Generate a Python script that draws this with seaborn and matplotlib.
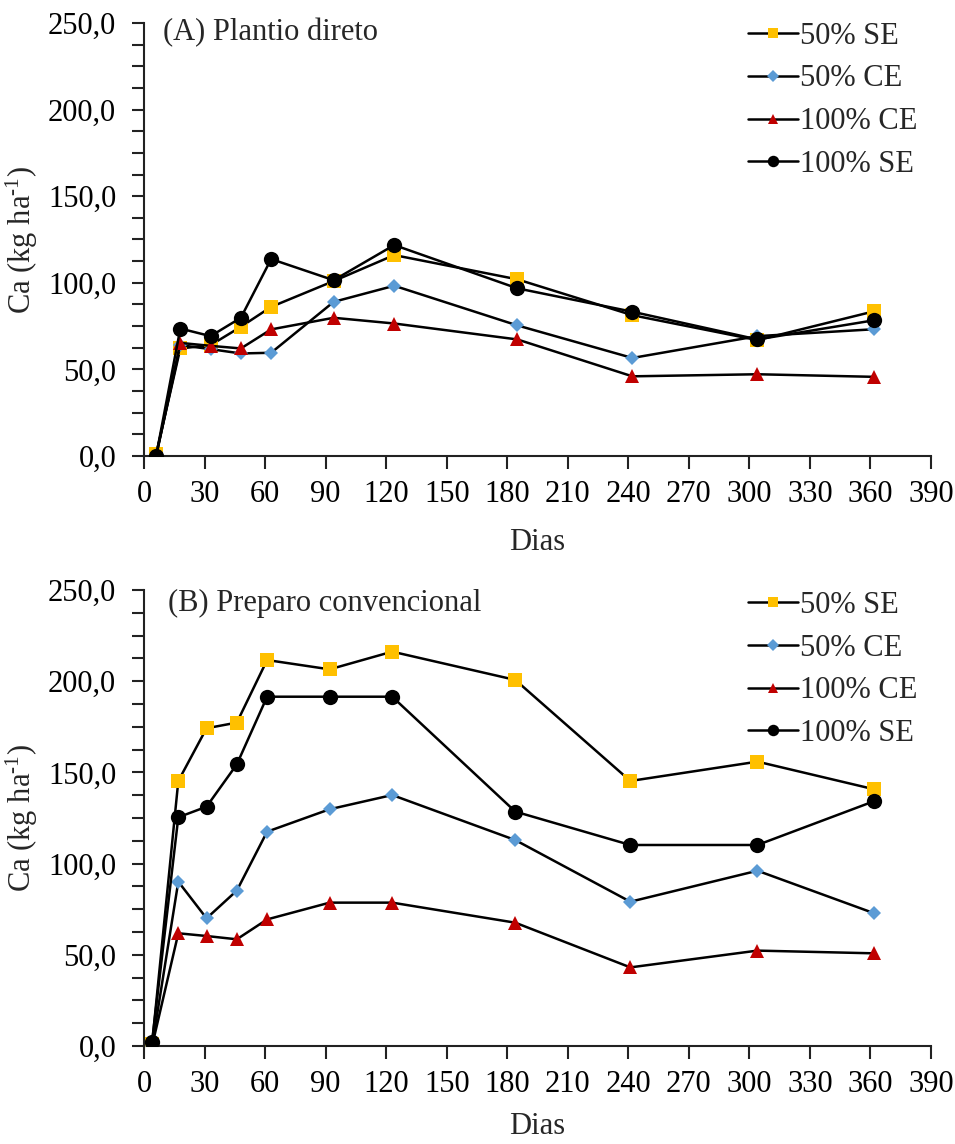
import matplotlib
matplotlib.use("Agg")
import matplotlib.pyplot as plt
import seaborn as sns
import numpy as np
from matplotlib.ticker import MultipleLocator, FuncFormatter

sns.set_style("ticks")
plt.rcParams['font.family'] = ['Liberation Serif', 'DejaVu Serif']
plt.rcParams['mathtext.fontset'] = 'custom'
plt.rcParams['mathtext.rm'] = 'Liberation Serif'
plt.rcParams['mathtext.default'] = 'regular'

series_names = ["50% SE", "50% CE", "100% CE", "100% SE"]

days_a = [6, 18, 33, 48, 63, 94, 124, 185, 242, 304, 362]
a_50se = [1.0, 62.1, 64.0, 74.6, 86.1, 101.0, 116.0, 102.0, 81.3, 66.9, 83.6]
a_50ce = [0.0, 64.0, 61.7, 59.2, 59.6, 89.0, 98.3, 75.4, 56.6, 69.2, 73.2]
a_100ce = [0.0, 65.3, 63.6, 62.1, 73.1, 79.8, 76.5, 67.3, 46.0, 47.2, 45.7]
a_100se = [0.0, 73.6, 69.2, 79.8, 113.7, 101.5, 121.8, 96.8, 83.3, 67.3, 78.4]

days_b = [4, 17, 31, 46, 61, 92, 123, 184, 241, 304, 362]
b_50se = [1.0, 145.3, 174.2, 177.3, 211.6, 206.5, 216.2, 200.7, 145.3, 155.9, 140.7]
b_50ce = [0.0, 90.1, 70.0, 85.2, 117.5, 129.8, 137.6, 112.9, 79.1, 96.1, 72.7]
b_100ce = [0.0, 61.8, 60.3, 58.5, 69.4, 78.6, 78.6, 67.6, 43.1, 52.3, 50.8]
b_100se = [2.4, 125.4, 131.2, 154.4, 191.5, 191.5, 191.5, 128.5, 110.2, 110.2, 134.3]

titles = ["(A) Plantio direto", "(B) Preparo convencional"]
x_label = "Dias"
y_label = r"Ca (kg ha$^{\text{-1}}$)"

styles = {
    "50% SE": dict(marker="s", mfc="#FFC000", ms=10.5),
    "50% CE": dict(marker="D", mfc="#5B9BD5", ms=7.5),
    "100% CE": dict(marker="^", mfc="#C00000", ms=10.5),
    "100% SE": dict(marker="o", mfc="#000000", ms=11),
}

fig = plt.figure(figsize=(9.55, 11.44), dpi=100)
ax_a = fig.add_axes([144/955, 1-456/1144, 787/955, 433/1144])
ax_b = fig.add_axes([144/955, 1-1046/1144, 787/955, 456/1144])

panels = [
    (ax_a, days_a, [a_50se, a_50ce, a_100ce, a_100se], titles[0], (0.024, 0.977), 1.003, 14),
    (ax_b, days_b, [b_50se, b_50ce, b_100ce, b_100se], titles[1], (0.030, 0.971), 0.998, 10),
]

fs = 22
fmt = FuncFormatter(lambda v, p: f"{v:.1f}".replace(".", ","))

for ax, days, vals, title, tpos, legtop, xpad in panels:
    for name, v in zip(series_names, vals):
        st = styles[name]
        sns.lineplot(x=days, y=v, ax=ax, color="black", linewidth=1.8,
                     marker=st["marker"], markersize=st["ms"],
                     markerfacecolor=st["mfc"], markeredgecolor=st["mfc"],
                     markeredgewidth=0, label=name, sort=False, zorder=3)
    ax.set_xlim(0, 390)
    ax.set_ylim(0, 250)
    ax.xaxis.set_major_locator(MultipleLocator(30))
    ax.yaxis.set_major_locator(MultipleLocator(50))
    ax.yaxis.set_minor_locator(MultipleLocator(12.5))
    ax.yaxis.set_major_formatter(fmt)
    for side in ["top", "right"]:
        ax.spines[side].set_visible(False)
    for side in ["left", "bottom"]:
        ax.spines[side].set_linewidth(1.5)
        ax.spines[side].set_color("#222222")
        ax.spines[side].set_clip_on(False)
    ax.tick_params(axis="x", which="major", direction="out", length=9, width=1.5,
                   labelsize=fs, pad=8, color="#222222")
    ax.tick_params(axis="y", which="both", direction="out", length=9, width=1.5,
                   labelsize=fs, pad=11, color="#222222")
    ax.set_xlabel(x_label, fontsize=fs, labelpad=xpad)
    ax.set_ylabel(y_label, fontsize=fs, labelpad=6)
    ax.text(tpos[0], tpos[1], title, transform=ax.transAxes, fontsize=fs,
            ha="left", va="center")
    leg = ax.legend(loc="upper left", bbox_to_anchor=((748-144)/787, legtop),
                    frameon=False, fontsize=fs, handlelength=1.65,
                    handletextpad=0.05, labelspacing=0.45, borderpad=0,
                    borderaxespad=0, markerscale=0.75)
    for ln in leg.get_lines():
        ln.set_linewidth(1.8)
    for t in ax.get_xticklabels() + ax.get_yticklabels():
        t.set_color("black")

fig.savefig("out.png", dpi=100)
